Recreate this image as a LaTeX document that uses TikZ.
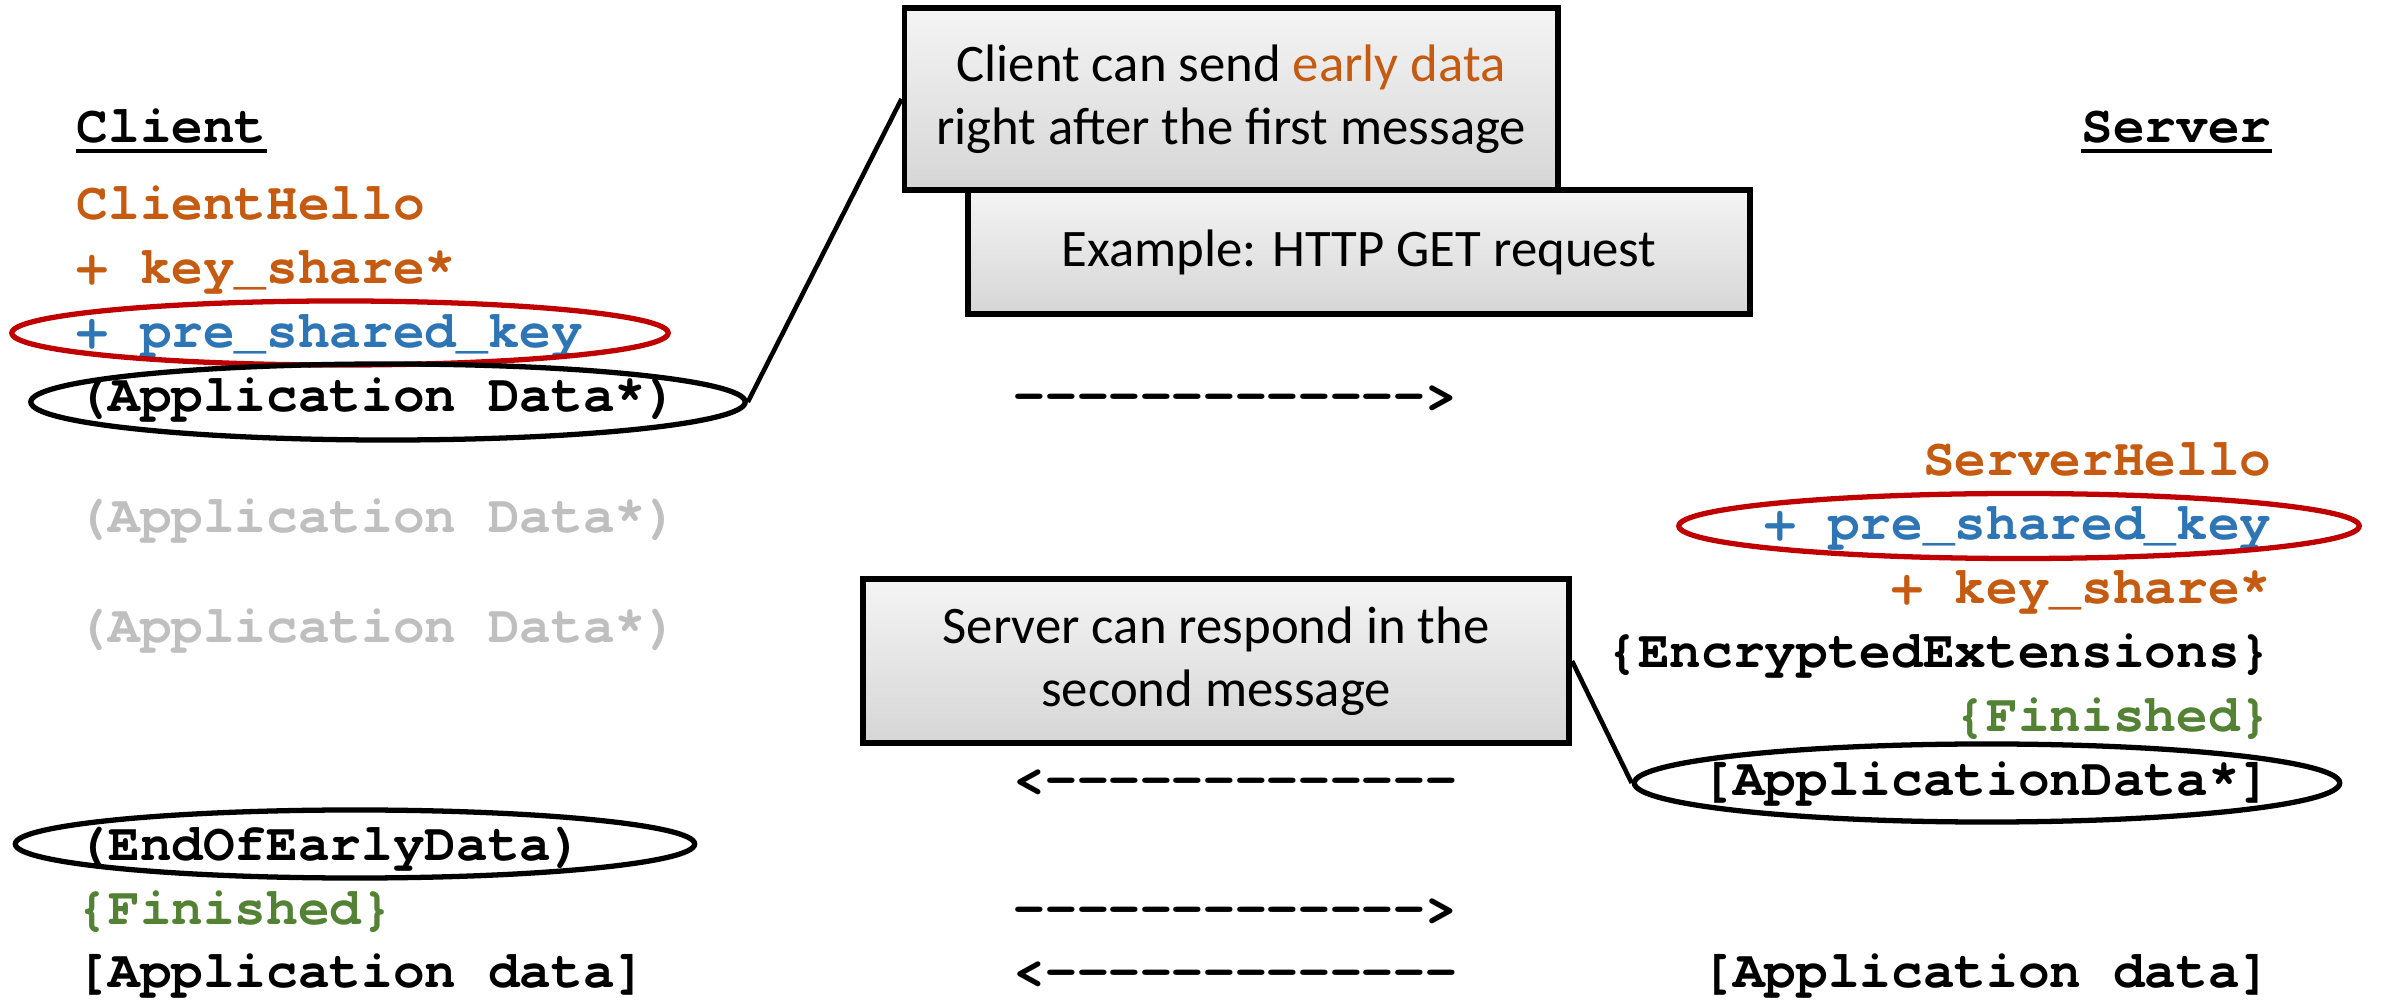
\documentclass[tikz,border=0pt]{standalone}
\usepackage{fontspec}
\setmainfont{Carlito}
\setmonofont{texgyrecursor}[
    Extension=.otf,
    UprightFont=*-regular,
    BoldFont=*-bold
]
\usetikzlibrary{positioning, shapes.geometric}

\definecolor{tlsorange}{HTML}{C55A11}
\definecolor{tlsblue}{HTML}{2E75B6}
\definecolor{tlsgreen}{HTML}{548235}
\definecolor{tlsred}{HTML}{C00000}
\definecolor{tlsgrey}{HTML}{BFBFBF}
\definecolor{boxtop}{HTML}{F4F4F4}
\definecolor{boxbot}{HTML}{D6D6D6}

\begin{document}
\begin{tikzpicture}[
    x=0.01cm,
    y=-0.01cm,
    msg/.style={
        font=\ttfamily\bfseries\fontsize{15}{18}\selectfont,
        inner sep=0pt
    },
    cmsg/.style={
        msg,
        anchor=base west
    },
    smsg/.style={
        msg,
        anchor=base east
    },
    note/.style={
        draw,
        line width=1.6pt,
        top color=boxtop,
        bottom color=boxbot,
        font=\fontsize{15}{18}\selectfont,
        align=center
    },
    ring/.style={
        ellipse,
        draw,
        line width=1.5pt,
        inner sep=0pt
    },
    callout/.style={
        line width=1.3pt
    }
]

\useasboundingbox (0,0) rectangle (2382,1004);

\node[cmsg] (client) at (76,143) {Client};
\node[smsg] (server) at (2272,143) {Server};

\node[cmsg, tlsorange] (chello) at (76,220) {ClientHello};
\node[cmsg, tlsorange] (ckey) at (76,284) {+ key\_share*};
\node[cmsg, tlsblue] (cpsk) at (76,348) {+ pre\_shared\_key};
\node[cmsg] (cearly) at (76,412) {(Application Data*)};
\node[cmsg, tlsgrey] (cgreya) at (76,533) {(Application Data*)};
\node[cmsg, tlsgrey] (cgreyb) at (76,643) {(Application Data*)};
\node[cmsg] (ceoed) at (76,860) {(EndOfEarlyData)};
\node[cmsg, tlsgreen] (cfin) at (76,924) {\{Finished\}};
\node[cmsg] (cdata) at (76,988) {[Application data]};

\node[smsg, tlsorange] (shello) at (2272,476) {ServerHello};
\node[smsg, tlsblue] (spsk) at (2272,540) {+ pre\_shared\_key};
\node[smsg, tlsorange] (skey) at (2272,604) {+ key\_share*};
\node[smsg] (senc) at (2272,668) {\{EncryptedExtensions\}};
\node[smsg, tlsgreen] (sfin) at (2272,732) {\{Finished\}};
\node[smsg] (searly) at (2272,796) {[ApplicationData*]};
\node[smsg] (sdata) at (2272,988) {[Application data]};

\node[cmsg] (flowa) at (1013,412) {------------->};
\node[cmsg] (flowb) at (1013,796) {<-------------};
\node[cmsg] (flowc) at (1013,924) {------------->};
\node[cmsg] (flowd) at (1013,988) {<-------------};

\node[ring, draw=tlsred, minimum width=6.56cm, minimum height=0.64cm]
(cpskring) at (340,333) {};
\node[ring, minimum width=7.14cm, minimum height=0.76cm]
(cearlyring) at (388,402) {};
\node[ring, draw=tlsred, minimum width=6.8cm, minimum height=0.65cm]
(spskring) at (2019,526) {};
\node[ring, minimum width=7.05cm, minimum height=0.78cm]
(searlyring) at (1987,783) {};
\node[ring, minimum width=6.79cm, minimum height=0.68cm]
(ceoedring) at (355,844) {};

\node[note, minimum width=7.82cm, minimum height=1.24cm] (example)
at (1359,252) {Example: HTTP GET request};

\node[note, minimum width=6.53cm, minimum height=1.82cm] (early)
at (1231,99) {Client can send \textcolor{tlsorange}{early data}\\right after the first message};

\node[note, minimum width=7.06cm, minimum height=1.64cm] (respond)
at (1216,661) {Server can respond in the\\second message};

\draw[line width=1.3pt] ([yshift=-0.08cm]client.base west) -- ([yshift=-0.08cm]client.base east);
\draw[line width=1.3pt] ([yshift=-0.08cm]server.base west) -- ([yshift=-0.08cm]server.base east);

\draw[callout] (cearlyring.east) -- (early.west);
\draw[callout] (respond.east) -- (searlyring.west);

\end{tikzpicture}
\end{document}
